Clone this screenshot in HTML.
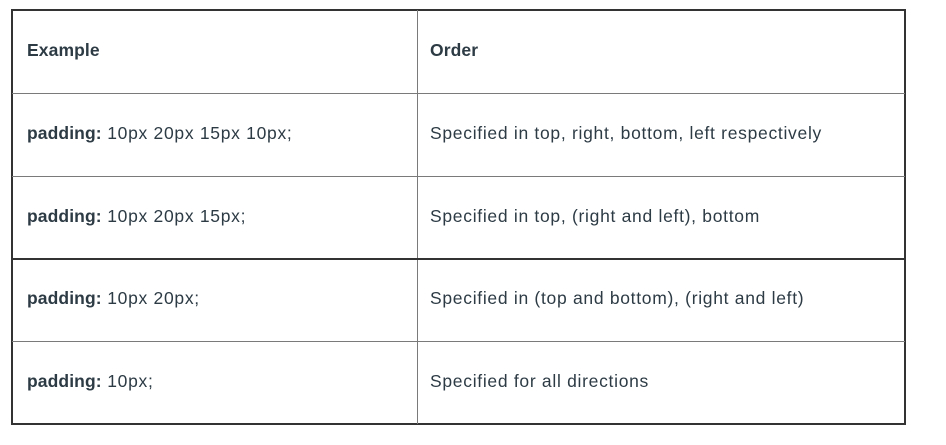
<!DOCTYPE html>
<html><head><meta charset="utf-8"><style>
html,body{margin:0;padding:0;background:#fff;width:946px;height:445px;overflow:hidden}
.l{position:absolute;background:#7a7a7a}
.d{position:absolute;background:#333}
.t{position:absolute;font-family:"Liberation Sans",sans-serif;font-size:17.5px;letter-spacing:0.7px;color:#2d3b45;line-height:20px;white-space:nowrap}
b{font-weight:bold;letter-spacing:0.1px}
</style></head><body>
<div class="d" style="left:11px;top:9px;width:895px;height:2px"></div>
<div class="d" style="left:11px;top:423px;width:895px;height:2px"></div>
<div class="d" style="left:11px;top:9px;width:2px;height:416px"></div>
<div class="d" style="left:904px;top:9px;width:2px;height:416px"></div>
<div class="l" style="left:417px;top:10px;width:1px;height:414px"></div>
<div class="l" style="left:12px;top:93px;width:893px;height:1px"></div>
<div class="l" style="left:12px;top:176px;width:893px;height:1px"></div>
<div class="d" style="left:12px;top:258px;width:893px;height:2px"></div>
<div class="l" style="left:12px;top:341px;width:893px;height:1px"></div>

<div class="t" style="left:27px;top:40px"><b>Example</b></div>
<div class="t" style="left:430px;top:40px"><b>Order</b></div>
<div class="t" style="left:27px;top:123px"><b>padding:</b> 10px 20px 15px 10px;</div>
<div class="t" style="left:430px;top:123px">Specified in top, right, bottom, left respectively</div>
<div class="t" style="left:27px;top:206px"><b>padding:</b> 10px 20px 15px;</div>
<div class="t" style="left:430px;top:206px">Specified in top, (right and left), bottom</div>
<div class="t" style="left:27px;top:288px"><b>padding:</b> 10px 20px;</div>
<div class="t" style="left:430px;top:288px">Specified in (top and bottom), (right and left)</div>
<div class="t" style="left:27px;top:371px"><b>padding:</b> 10px;</div>
<div class="t" style="left:430px;top:371px">Specified for all directions</div>
</body></html>
